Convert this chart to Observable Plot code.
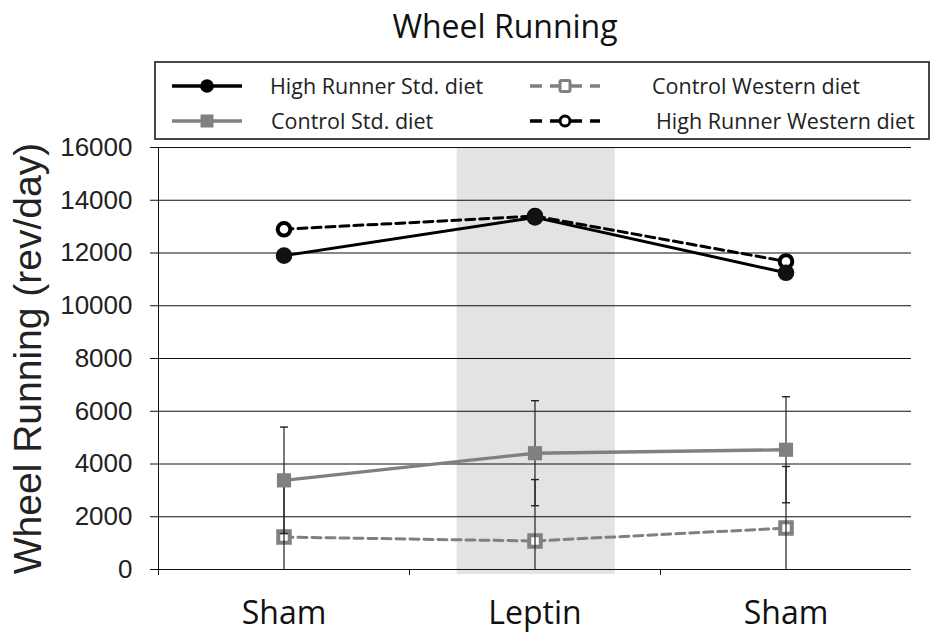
<!DOCTYPE html>
<html>
<head>
<meta charset="utf-8">
<script src="https://cdn.jsdelivr.net/npm/d3@7"></script>
<script src="https://cdn.jsdelivr.net/npm/@observablehq/plot@0.6"></script>
<style>
  html, body { margin: 0; padding: 0; background: #fff; }
  #wrap { position: relative; width: 931px; height: 635px; overflow: hidden; }
  #header { position: relative; width: 931px; height: 140px; }
  #title { position: absolute; left: 0; width: 1010px; top: 6px; text-align: center;
           font-family: "Open Sans", sans-serif; font-size: 32px; color: #111; line-height: 40px; }
  #legend { position: absolute; left: 0; top: 0; }
</style>
</head>
<body>
<div id="wrap">
  <div id="header">
    <div id="title">Wheel Running</div>
    <svg id="legend" width="931" height="140"></svg>
  </div>
  <div id="chart"></div>
</div>
<script>
// ---- data ----
const phases = ["Sham", "Leptin", "Sham"];
const hrStd = [11900, 13350, 11250];
const hrWestern = [12900, 13400, 11680];
const ctrlStd = [3380, 4410, 4540];
const ctrlWestern = [1230, 1080, 1570];
const ctrlStdErr = [2020, 1990, 2010];
const ctrlWesternErr = [2300, 2330, 2335];
const yTicks = [0, 2000, 4000, 6000, 8000, 10000, 12000, 14000, 16000];
const leptinWindow = [0.69, 1.32];
const seriesNames = ["High Runner Std. diet", "Control Std. diet", "Control Western diet", "High Runner Western diet"];

const GRAY = "#808080";
const BLACK = "#000";

const rows = (vals, name) => vals.map((v, i) => ({i, v, name}));
const errRows = (vals, errs) => vals.map((v, i) => ({i, v, lo: Math.max(0, v - errs[i]), hi: v + errs[i], loVisible: v - errs[i] >= 0}));

const dHrStd = rows(hrStd, seriesNames[0]);
const dCtrlStd = rows(ctrlStd, seriesNames[1]);
const dCtrlWes = rows(ctrlWestern, seriesNames[2]);
const dHrWes = rows(hrWestern, seriesNames[3]);
const eStd = errRows(ctrlStd, ctrlStdErr);
const eWes = errRows(ctrlWestern, ctrlWesternErr);
const caps = [
  ...eStd.map(d => ({i: d.i, y: d.hi})), ...eStd.filter(d => d.loVisible).map(d => ({i: d.i, y: d.lo})),
  ...eWes.map(d => ({i: d.i, y: d.hi})), ...eWes.filter(d => d.loVisible).map(d => ({i: d.i, y: d.lo}))
];

const capSymbol = {
  draw(ctx, size) {
    const w = Math.sqrt(size) / 2;
    ctx.moveTo(-w, 0);
    ctx.lineTo(w, 0);
  }
};

const chart = Plot.plot({
  width: 931,
  height: 495,
  marginTop: 7,
  marginBottom: 66,
  marginLeft: 158,
  marginRight: 20,
  style: {overflow: "visible", background: "transparent"},
  x: {type: "linear", domain: [-0.5, 2.5]},
  y: {domain: [0, 16000]},
  marks: [
    Plot.rect([leptinWindow], {x1: d => d[0], x2: d => d[1], y1: 0, y2: 16000, fill: "#e3e3e3", insetBottom: -5}),
    Plot.ruleY(yTicks, {stroke: "#111", strokeWidth: 1}),
    Plot.ruleX([-0.5], {y1: 0, y2: 16000, stroke: "#111", strokeWidth: 1}),
    Plot.axisY({ticks: yTicks, tickSize: 8, tickPadding: 18, fontSize: 26, fontFamily: "Liberation Sans, Arial, sans-serif", label: null, tickFormat: d => String(d), stroke: "#111", fill: "#222"}),
    Plot.axisX({ticks: [-0.5, 0.5, 1.5], tickSize: 6, tickFormat: () => "", label: null, stroke: "#111"}),
    Plot.axisX({ticks: [0, 1, 2], tickSize: 0, tickPadding: 32, tickFormat: i => phases[i], fontSize: 32, fontFamily: "Open Sans, sans-serif", label: null, fill: "#111"}),
    Plot.text(["Wheel Running (rev/day)"], {frameAnchor: "left", textAnchor: "middle", dx: -130, rotate: -90, fontSize: 39, fontFamily: "Liberation Sans, Arial, sans-serif", fill: "#222"}),
    // lines
    Plot.line(dCtrlWes, {x: "i", y: "v", stroke: GRAY, strokeWidth: 3, strokeDasharray: "9,5"}),
    Plot.line(dCtrlStd, {x: "i", y: "v", stroke: GRAY, strokeWidth: 3.4}),
    Plot.line(dHrWes, {x: "i", y: "v", stroke: BLACK, strokeWidth: 3, strokeDasharray: "9,5"}),
    Plot.line(dHrStd, {x: "i", y: "v", stroke: BLACK, strokeWidth: 3}),
    // control western markers
    Plot.dot(dCtrlWes, {x: "i", y: "v", symbol: "square", r: 6.5, fill: "#fff", stroke: GRAY, strokeWidth: 4}),
    // error bars
    Plot.ruleX(eStd, {x: "i", y1: "lo", y2: "hi", stroke: "#222", strokeWidth: 1.2}),
    Plot.ruleX(eWes, {x: "i", y1: "lo", y2: "hi", stroke: "#222", strokeWidth: 1.2}),
    Plot.dot(caps, {x: "i", y: "y", symbol: capSymbol, r: 4.5, stroke: "#222", strokeWidth: 1.4, fill: "none"}),
    // control std markers
    Plot.dot(dCtrlStd, {x: "i", y: "v", symbol: "square", r: 8, fill: GRAY, stroke: "none"}),
    // HR markers
    Plot.dot(dHrWes, {x: "i", y: "v", r: 6.3, fill: "#fff", stroke: BLACK, strokeWidth: 4}),
    Plot.dot(dHrStd, {x: "i", y: "v", r: 8.3, fill: "#111", stroke: "none"})
  ]
});
document.getElementById("chart").appendChild(chart);

// ---- legend (swatches mirror the series styles) ----
const legendItems = [
  {name: seriesNames[0], col: 0, row: 0, stroke: BLACK, dash: null, marker: "circleFilled"},
  {name: seriesNames[1], col: 0, row: 1, stroke: GRAY, dash: null, marker: "squareFilled"},
  {name: seriesNames[2], col: 1, row: 0, stroke: GRAY, dash: "12,8", marker: "squareOpen"},
  {name: seriesNames[3], col: 1, row: 1, stroke: BLACK, dash: "12,8", marker: "circleOpen"}
];
const svg = d3.select("#legend");
svg.append("rect").attr("x", 155).attr("y", 62).attr("width", 774).attr("height", 77)
  .attr("fill", "none").attr("stroke", "#333").attr("stroke-width", 1.8);
const colX = [172, 530];
const textX = [[270, 271], [652, 656]];
const rowY = [86, 121];
for (const it of legendItems) {
  const x0 = colX[it.col], y = rowY[it.row];
  const ln = svg.append("line").attr("x1", x0).attr("x2", x0 + 70).attr("y1", y).attr("y2", y)
    .attr("stroke", it.stroke).attr("stroke-width", 3.4);
  if (it.dash) ln.attr("stroke-dasharray", it.dash);
  const cx = x0 + 35;
  if (it.marker === "circleFilled") svg.append("circle").attr("cx", cx).attr("cy", y).attr("r", 6.8).attr("fill", "#000");
  if (it.marker === "squareFilled") svg.append("rect").attr("x", cx - 6.5).attr("y", y - 6.5).attr("width", 13).attr("height", 13).attr("fill", GRAY);
  if (it.marker === "squareOpen") svg.append("rect").attr("x", cx - 5).attr("y", y - 5.5).attr("width", 10).attr("height", 11).attr("rx", 1.5).attr("fill", "#fff").attr("stroke", GRAY).attr("stroke-width", 3);
  if (it.marker === "circleOpen") svg.append("circle").attr("cx", cx).attr("cy", y).attr("r", 5).attr("fill", "#fff").attr("stroke", "#000").attr("stroke-width", 3);
  svg.append("text").attr("x", textX[it.col][it.row]).attr("y", y).attr("dy", "0.35em")
    .attr("font-family", "Open Sans, sans-serif").attr("font-size", 21.5).attr("fill", "#222")
    .text(it.name);
}
</script>
</body>
</html>
